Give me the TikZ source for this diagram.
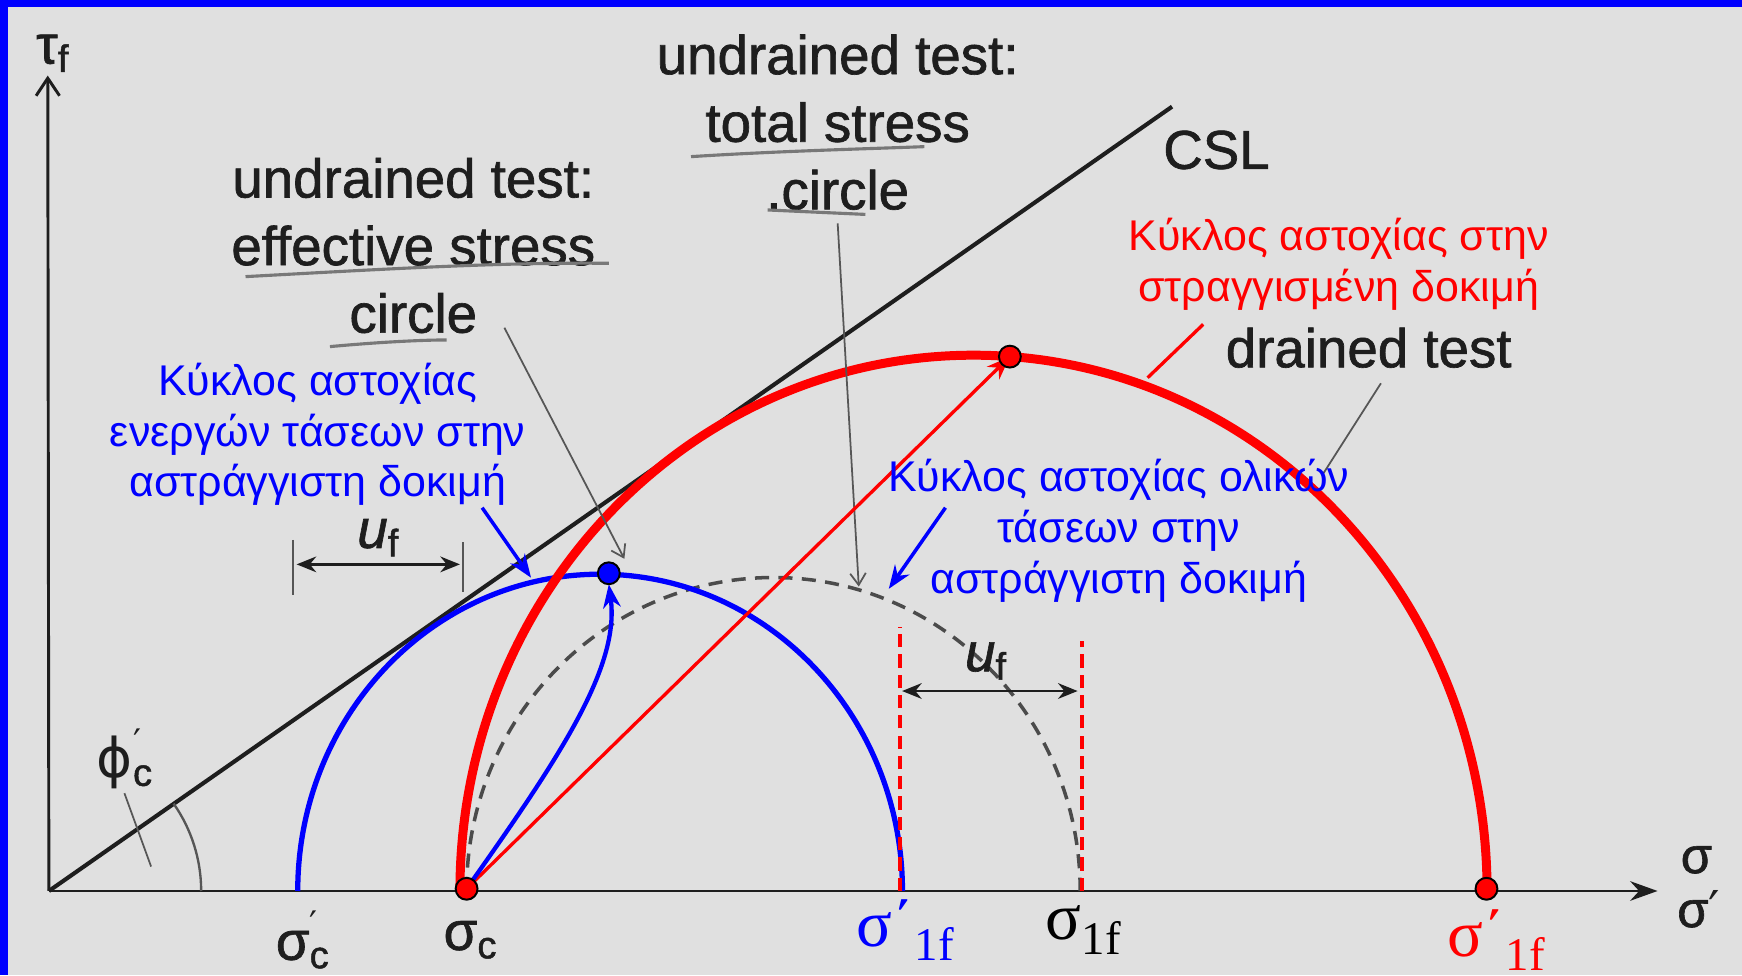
\documentclass[tikz,border=0pt]{standalone}
\usepackage{fontspec}
\setmainfont{Liberation Sans}
\newfontfamily\scanfont[FakeBold=1.2]{Liberation Sans}
\newfontfamily\serifgr{Liberation Serif}
\newfontfamily\djv{DejaVu Sans}
\usetikzlibrary{arrows.meta}
\definecolor{bgc}{RGB}{224,224,224}
\definecolor{ink}{RGB}{30,30,30}
\definecolor{pblue}{RGB}{0,0,255}
\definecolor{pred}{RGB}{255,0,0}
\newcommand{\pr}{\rlap{\raisebox{0.42em}{\djv\small ′}}}
\newcommand{\psub}[2]{#1\pr\textsubscript{#2}}
\newcommand{\sersub}[2]{#1\raisebox{-3.7pt}{\fontsize{12}{14}\selectfont #2}}
\tikzset{
  scan/.style={text=ink, font=\scanfont\fontsize{14}{17.3}\selectfont, align=center, inner sep=0pt},
  btxt/.style={text=pblue, font=\fontsize{11}{13}\selectfont, align=center, inner sep=0pt},
  rtxt/.style={text=pred, font=\fontsize{11}{13}\selectfont, align=center, inner sep=0pt},
  serlbl/.style={font=\serifgr\fontsize{17}{20}\selectfont, inner sep=0pt},
  bcirc/.style={draw=pblue, line width=1.35pt},
  rcirc/.style={draw=pred, line width=2.3pt},
  tcirc/.style={draw=ink!80, line width=0.9pt, dash pattern=on 3.6pt off 2.4pt},
  rdash/.style={draw=pred, line width=0.9pt, dash pattern=on 3.4pt off 1.8pt},
  axisline/.style={draw=ink, line width=0.75pt},
  leader/.style={draw=ink!75, line width=0.45pt},
  smalltip/.style={-{Straight Barb[length=3pt,width=4pt]}},
  barrow/.style={draw=pblue, line width=0.9pt, -{Stealth[length=6pt,width=4.5pt]}},
  rarrow/.style={draw=pred, line width=0.85pt, -{Stealth[length=6pt,width=4.5pt]}},
  dimarrow/.style={draw=ink, line width=0.75pt, {Stealth[length=5pt,width=4pt]}-{Stealth[length=5pt,width=4pt]}},
  dotb/.style={circle, fill=pblue, draw=black, line width=0.5pt, minimum size=5.6pt, inner sep=0pt},
  dotr/.style={circle, fill=pred, draw=black, line width=0.5pt, minimum size=5.6pt, inner sep=0pt},
  squig/.style={draw=ink!60, line width=0.8pt}
}
\begin{document}
\begin{tikzpicture}[x=0.01cm,y=0.01cm]
\useasboundingbox (0,0) rectangle (1568,878);
\fill[bgc] (0,0) rectangle (1568,878);
\fill[pblue] (0,872) rectangle (1568,878);
\fill[pblue] (0,0) rectangle (7,878);

% coordinates
\coordinate (O) at (44,76);
\coordinate (Ytip) at (43,810);
\coordinate (Xtip) at (1492,76);
\coordinate (CSLend) at (1055,782);
\coordinate (sigcp) at (268,76);
\coordinate (sigc) at (420,78);
\coordinate (tstart) at (420,76);
\coordinate (rstart) at (414,76);

% axes
\draw[axisline, -{Straight Barb[length=4.5pt,width=6pt]}] (O) -- (Ytip);
\draw[axisline, -{Stealth[length=7pt,width=5pt]}] (O) -- (Xtip);
\node[scan] (tau) at (48,830) {τ\textsubscript{f}};
\node[scan, font=\scanfont\fontsize{13}{15}\selectfont] (sigx) at (1527,104) {σ};
\node[scan, font=\scanfont\fontsize{13}{15}\selectfont] (sigxp) at (1529,60) {σ{\djv ′}};

% CSL
\draw[draw=ink, line width=1.05pt] (O) -- (CSLend);
\node[scan] (csl) at (1095,743) {CSL};

% angle
\draw[leader, line width=0.6pt] (O) ++(0:1.37cm) arc[start angle=0, end angle=35, radius=1.37cm];
\node[scan] (phi) at (113,195) {\psub{{\djv ϕ}}{c}};
\coordinate (phiA) at (112,164);
\coordinate (phiB) at (136,98);
\draw[leader] (phiA) -- (phiB);

% total stress dashed circle
\draw[tcirc] (tstart) arc[start angle=180, end angle=0, x radius=2.76cm, y radius=2.82cm];

% effective stress circle (blue)
\draw[bcirc] (sigcp) arc[start angle=180, end angle=0, x radius=2.72cm, y radius=2.85cm];

% drained circle (red)
\draw[rcirc] (rstart) arc[start angle=180, end angle=0, x radius=4.62cm, y radius=4.82cm];

% red dashed verticals and u_f
\coordinate (d1a) at (810,76);
\coordinate (d1b) at (810,314);
\coordinate (d2a) at (974,76);
\coordinate (d2b) at (974,301);
\draw[rdash] (d1a) -- (d1b);
\draw[rdash] (d2a) -- (d2b);
\coordinate (u2a) at (812,256);
\coordinate (u2b) at (970,256);
\draw[dimarrow] (u2a) -- (u2b);
\node[scan] (uf2) at (888,283) {\textit{u}\textsubscript{f}};

% left u_f
\coordinate (t1a) at (264,392);
\coordinate (t1b) at (264,342);
\coordinate (t2a) at (417,390);
\coordinate (t2b) at (417,345);
\draw[leader, line width=0.6pt] (t1a) -- (t1b);
\draw[leader, line width=0.6pt] (t2a) -- (t2b);
\coordinate (u1a) at (267,370);
\coordinate (u1b) at (414,370);
\draw[dimarrow] (u1a) -- (u1b);
\node[scan] (uf1) at (341,394) {\textit{u}\textsubscript{f}};

% black scanned labels
\node[scan] (effL) at (372,657) {undrained test:\\effective stress\\circle};
\draw[squig] (221,629) .. controls (350,636) and (450,642) .. (548,641);
\draw[squig] (297,566) .. controls (340,570) and (380,572) .. (402,572);
\node[scan] (totL) at (754,768) {undrained test:\\total stress\\.circle};
\draw[squig] (622,737) .. controls (700,742) and (780,744) .. (832,746);
\draw[squig] (691,689) -- (779,685);
\node[scan] (drL) at (1232,565) {drained test};

% leaders
\coordinate (effA) at (454,583);
\coordinate (effB) at (562,375);
\draw[leader, smalltip] (effA) -- (effB);
\coordinate (totA) at (754,677);
\coordinate (totB) at (773,350);
\draw[leader, smalltip] (totA) -- (totB);
\coordinate (drA) at (1243,533);
\coordinate (drB) at (1190,450);
\draw[leader] (drA) -- (drB);

% red/blue stress paths
\coordinate (rtop) at (909,557);
\coordinate (btop) at (548,362);
\draw[rarrow] (sigc) -- (rtop);
\draw[draw=pblue, line width=1.1pt, -{Stealth[length=6pt,width=4.5pt]}] (sigc) .. controls (505,198) and (558,278) .. (548,352);

% blue/red texts
\node[btxt] (effG) at (286,487) {Κύκλος αστοχίας\\ενεργών τάσεων στην\\αστράγγιστη δοκιμή};
\node[btxt] (totG) at (1007,400) {Κύκλος αστοχίας ολικών\\τάσεων στην\\αστράγγιστη δοκιμή};
\node[rtxt] (drG) at (1205,640) {Κύκλος αστοχίας στην\\στραγγισμένη δοκιμή};

\coordinate (ba1) at (434,421);
\coordinate (bb1) at (478,358);
\draw[barrow] (ba1) -- (bb1);
\coordinate (ba2) at (851,421);
\coordinate (bb2) at (800,348);
\draw[barrow] (ba2) -- (bb2);
\coordinate (ra) at (1083,586);
\coordinate (rb) at (1033,538);
\draw[draw=pred, line width=0.85pt] (ra) -- (rb);

% dots
\node[dotb] (bdot) at (btop) {};
\node[dotr] (rdot) at (rtop) {};
\node[dotr] (cdot) at (sigc) {};
\node[dotr] (fdot) at (1338,78) {};

% axis labels
\node[scan] (lscp) at (273,32) {\psub{σ}{c}};
\node[scan] (lsc) at (424,32) {σ\textsubscript{c}};
\node[serlbl, text=pblue] (l1) at (815,41) {\sersub{σ΄}{1f}};
\node[serlbl, text=black] (l2) at (975,41) {\sersub{σ}{1f}};
\node[serlbl, text=pred] (l3) at (1347,32) {\sersub{σ΄}{1f}};
\end{tikzpicture}
\end{document}
